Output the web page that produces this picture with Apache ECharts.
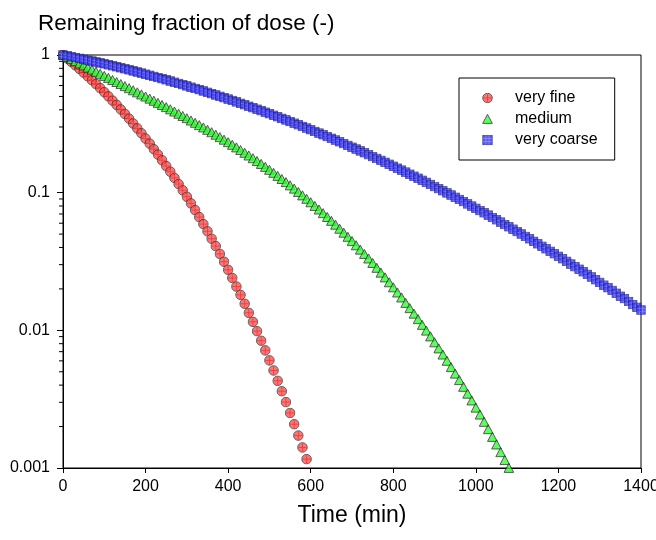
<!DOCTYPE html>
<html>
<head>
<meta charset="utf-8">
<title>Remaining fraction of dose</title>
<script src="https://cdn.jsdelivr.net/npm/echarts@6/dist/echarts.min.js"></script>
<style>
	html, body { margin: 0; padding: 0; background: #fff; }
	#main { width: 656px; height: 540px; }
</style>
</head>
<body>
<div id="main"></div>
<script>
// sampling step of the simulation (min)
var timeStep = 10;

var seriesNames = ['very fine', 'medium', 'very coarse'];

var veryFine = [
	1, 0.945, 0.892, 0.841, 0.792, 0.745, 0.700, 0.656, 0.615, 0.575,
	0.537, 0.501, 0.466, 0.434, 0.402, 0.373, 0.345, 0.318, 0.293, 0.270,
	0.247, 0.227, 0.207, 0.189, 0.172, 0.156, 0.142, 0.128, 0.1155, 0.1040,
	0.0934, 0.0836, 0.0747, 0.0665, 0.0591, 0.0524, 0.0463, 0.0409, 0.0359, 0.0315,
	0.0275, 0.0240, 0.0208, 0.0181, 0.0156, 0.0134, 0.01152, 0.00986, 0.00841, 0.00715,
	0.00605, 0.00511, 0.00430, 0.00361, 0.00301, 0.00251, 0.00208, 0.00172, 0.00141, 0.00116
];

var medium = [
	1, 0.9647, 0.9309, 0.8986, 0.8672, 0.8376, 0.8087, 0.7811, 0.7545, 0.7289,
	0.7041, 0.6803, 0.6573, 0.6351, 0.6136, 0.5928, 0.5727, 0.5532, 0.5343, 0.5160,
	0.4983, 0.4812, 0.4645, 0.4483, 0.4325, 0.4172, 0.4023, 0.3878, 0.3737, 0.3600,
	0.3467, 0.3338, 0.3212, 0.3090, 0.2971, 0.2855, 0.2742, 0.2632, 0.2525, 0.2422,
	0.2321, 0.2223, 0.2128, 0.2036, 0.1946, 0.1859, 0.1775, 0.1693, 0.1614, 0.1537,
	0.1463, 0.1391, 0.1322, 0.1255, 0.1190, 0.1128, 0.1068, 0.1010, 0.0954, 0.0901,
	0.0850, 0.0800, 0.0753, 0.0708, 0.0665, 0.0623, 0.0584, 0.0546, 0.0511, 0.0477,
	0.0444, 0.0414, 0.0385, 0.0358, 0.0332, 0.0308, 0.0284, 0.0262, 0.0242, 0.0223,
	0.0205, 0.0188, 0.0173, 0.0158, 0.01446, 0.01320, 0.01203, 0.01094, 0.00994, 0.00902,
	0.00817, 0.00738, 0.00666, 0.00600, 0.00539, 0.00484, 0.00434, 0.00388, 0.00346, 0.00309,
	0.00274, 0.00244, 0.00216, 0.00191, 0.00168, 0.00148, 0.00130, 0.00114, 0.00100
];

var veryCoarse = [
	1, 0.9864, 0.9727, 0.9590, 0.9452, 0.9314, 0.9177, 0.9039, 0.8901, 0.8762,
	0.8624, 0.8485, 0.8347, 0.8209, 0.8072, 0.7935, 0.7799, 0.7663, 0.7528, 0.7393,
	0.7259, 0.7126, 0.6993, 0.6861, 0.6730, 0.6601, 0.6471, 0.6343, 0.6216, 0.6090,
	0.5965, 0.5841, 0.5719, 0.5597, 0.5477, 0.5358, 0.5241, 0.5125, 0.5010, 0.4896,
	0.4784, 0.4674, 0.4565, 0.4457, 0.4351, 0.4247, 0.4144, 0.4042, 0.3942, 0.3844,
	0.3747, 0.3652, 0.3558, 0.3466, 0.3376, 0.3287, 0.3199, 0.3114, 0.3029, 0.2947,
	0.2866, 0.2786, 0.2708, 0.2632, 0.2557, 0.2483, 0.2411, 0.2341, 0.2272, 0.2205,
	0.2139, 0.2074, 0.2011, 0.1949, 0.1889, 0.1830, 0.1773, 0.1717, 0.1662, 0.1609,
	0.1557, 0.1507, 0.1458, 0.1410, 0.1363, 0.1318, 0.1274, 0.1231, 0.1189, 0.1148,
	0.1108, 0.1070, 0.1032, 0.0996, 0.0961, 0.0926, 0.0893, 0.0861, 0.0829, 0.0799,
	0.0770, 0.0741, 0.0714, 0.0687, 0.0660, 0.0635, 0.0611, 0.0587, 0.0565, 0.0543,
	0.0522, 0.0501, 0.0481, 0.0462, 0.0443, 0.0425, 0.0408, 0.0391, 0.0375, 0.0360,
	0.0345, 0.0331, 0.0317, 0.0303, 0.0290, 0.0278, 0.0266, 0.0255, 0.0244, 0.0233,
	0.0223, 0.0213, 0.0204, 0.0195, 0.0186, 0.0177, 0.0170, 0.0162, 0.0154, 0.0147, 0.01405
];

var xTicks = [0, 200, 400, 600, 800, 1000, 1200, 1400];
var yTickLabels = ['0.001', '0.01', '0.1', '1'];
var yMinorTicks = [
	0.002, 0.003, 0.004, 0.005, 0.006, 0.007, 0.008, 0.009,
	0.02, 0.03, 0.04, 0.05, 0.06, 0.07, 0.08, 0.09,
	0.2, 0.3, 0.4, 0.5, 0.6, 0.7, 0.8, 0.9
];

var FONT = '"Liberation Sans", Arial, sans-serif';

function svgSymbol(svg){
	return 'image://data:image/svg+xml;charset=utf-8,' + encodeURIComponent(svg);
}

// marker pictures, close to the SigmaPlot fills
var circleIcon = svgSymbol(
	"<svg xmlns='http://www.w3.org/2000/svg' width='20' height='20' viewBox='0 0 20 20'>" +
	"<circle cx='10' cy='10' r='8.7' fill='#ff5252' stroke='#333' stroke-width='1.7'/>" +
	"<path d='M10 2.2V17.8M2.2 10H17.8' stroke='#e00000' stroke-width='1.3'/></svg>");
var triangleIcon = svgSymbol(
	"<svg xmlns='http://www.w3.org/2000/svg' width='20' height='20' viewBox='0 0 20 20'>" +
	"<path d='M10 1.5L18.8 18H1.2Z' fill='#33ff33' stroke='#1a1a1a' stroke-width='1.6' stroke-linejoin='round'/></svg>");
var squareIcon = svgSymbol(
	"<svg xmlns='http://www.w3.org/2000/svg' width='20' height='20' viewBox='0 0 20 20'>" +
	"<rect x='1.5' y='1.5' width='17' height='17' fill='#3030ee' stroke='#1c1c80' stroke-width='1.6'/>" +
	"<path d='M7.2 2V18M12.8 2V18M2 7.2H18M2 12.8H18' stroke='#8a8aff' stroke-width='1.1'/></svg>");

function toPairs(values){
	var out = [];
	for(var i = 0; i < values.length; i++){
		out.push([i * timeStep, values[i]]);
	}
	return out;
}

var container = document.getElementById('main');
var chart = echarts.init(container, null, {renderer: 'canvas'});

var option = {
	backgroundColor: '#fff',
	animation: false,
	textStyle: { fontFamily: FONT },
	title: {
		text: 'Remaining fraction of dose (-)',
		left: 33,
		top: 7,
		textStyle: { fontFamily: FONT, fontSize: 22.5, fontWeight: 'normal', color: '#000' }
	},
	grid: {
		left: 63,
		right: 15,
		top: 55,
		bottom: 72,
		containLabel: false,
		outerBoundsMode: 'none',
		show: true,
		borderColor: '#000',
		borderWidth: 1,
		backgroundColor: 'transparent'
	},
	legend: {
		orient: 'vertical',
		left: 459,
		top: 78,
		padding: [12, 17, 12, 23],
		itemWidth: 11,
		itemHeight: 11,
		itemGap: 5,
		borderColor: '#000',
		borderWidth: 1,
		backgroundColor: '#fff',
		textStyle: { fontFamily: FONT, fontSize: 16, color: '#000', padding: [0, 0, 0, 17] },
		data: [
			{ name: seriesNames[0], icon: circleIcon },
			{ name: seriesNames[1], icon: triangleIcon },
			{ name: seriesNames[2], icon: squareIcon }
		]
	},
	xAxis: {
		type: 'value',
		min: xTicks[0],
		max: xTicks[xTicks.length - 1],
		interval: 200,
		name: 'Time (min)',
		nameLocation: 'middle',
		nameGap: 36,
		nameTextStyle: { fontFamily: FONT, fontSize: 23, color: '#000' },
		axisLine: { lineStyle: { color: '#000', width: 1 } },
		axisTick: { inside: false, length: 5, lineStyle: { color: '#000' } },
		axisLabel: {
			fontFamily: FONT,
			fontSize: 16,
			color: '#000',
			margin: 11,
			formatter: function(v){ return String(v); }
		},
		splitLine: { show: false }
	},
	yAxis: {
		type: 'log',
		logBase: 10,
		min: 0.001,
		max: 1,
		axisLine: { lineStyle: { color: '#000', width: 1 } },
		axisTick: { inside: false, length: 6, lineStyle: { color: '#000' } },
		axisLabel: {
			fontFamily: FONT,
			fontSize: 16,
			color: '#000',
			margin: 13,
			formatter: function(v){
				var k = Math.round(Math.log(v) / Math.LN10) + 3;
				return yTickLabels[k] || '';
			}
		},
		splitLine: { show: false }
	},
	series: [
		{
			// log minor ticks on the y axis
			type: 'custom',
			silent: true,
			z: 1,
			data: yMinorTicks.map(function(v){ return [0, v]; }),
			renderItem: function(params, api){
				var p = api.coord([0, api.value(1)]);
				return {
					type: 'line',
					shape: { x1: p[0] - 4, y1: p[1], x2: p[0], y2: p[1] },
					style: { stroke: '#000', lineWidth: 1 }
				};
			}
		},
		{
			name: seriesNames[0],
			type: 'scatter',
			symbol: circleIcon,
			symbolSize: 11,
			z: 3,
			data: toPairs(veryFine)
		},
		{
			name: seriesNames[1],
			type: 'scatter',
			symbol: triangleIcon,
			symbolSize: 11,
			z: 4,
			data: toPairs(medium)
		},
		{
			name: seriesNames[2],
			type: 'scatter',
			symbol: squareIcon,
			symbolSize: 10,
			z: 5,
			data: toPairs(veryCoarse)
		}
	]
};

chart.setOption(option);
</script>
</body>
</html>
